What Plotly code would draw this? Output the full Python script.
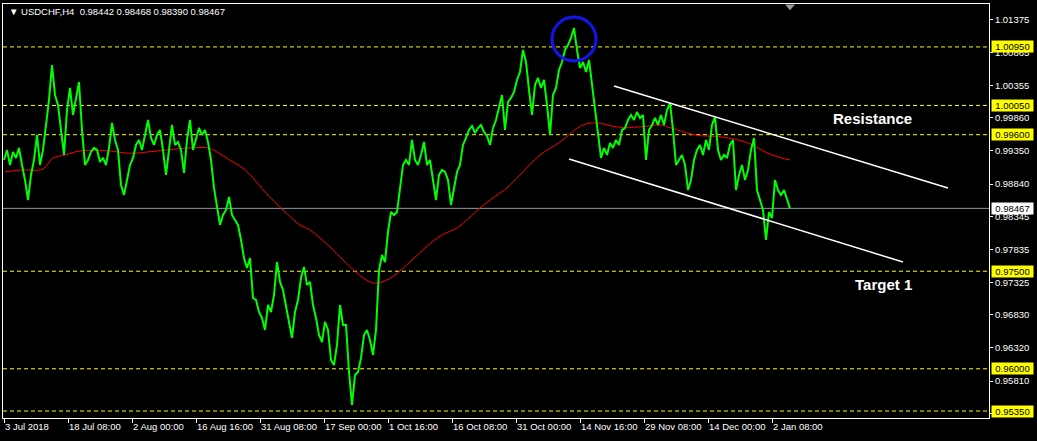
import plotly.graph_objects as go

# ---- data ----
symbol_header = "\u25BC USDCHF,H4  0.98442 0.98468 0.98390 0.98467"

close_jul_aug = [0.99211, 0.99365, 0.99134, 0.99334, 0.99242, 0.99396, 0.99134, 0.98904, 0.98596, 0.98981,
                 0.99211, 0.99596, 0.99134, 0.99365, 0.99750, 1.00134, 1.00672, 1.00211, 1.00057, 0.99673,
                 0.99288, 0.99980, 1.00319, 0.99903, 1.00134, 1.00411, 0.99673, 0.99134, 0.99211, 0.99334,
                 0.99396, 0.99365, 0.99180, 0.99242, 0.99134, 0.99396, 0.99780, 0.99519, 0.99365, 0.98827,
                 0.98673, 0.98934, 0.99134]
close_aug_sep = [0.99242, 0.99442, 0.99519, 0.99365, 0.99596, 0.99826, 0.99550, 0.99442, 0.99596, 0.99673,
                 0.99365, 0.98981, 0.99365, 0.99750, 0.99442, 0.99488, 0.99365, 0.99011, 0.99519, 0.99826,
                 0.99365, 0.99519, 0.99703, 0.99596, 0.99673, 0.99488, 0.99211, 0.98781, 0.98519, 0.98212,
                 0.98365, 0.98442, 0.98642, 0.98365, 0.98288, 0.98212, 0.97981, 0.97704, 0.97550, 0.97704,
                 0.97089, 0.97058, 0.96873, 0.96781]
close_sep_oct = [0.96597, 0.96981, 0.96873, 0.97135, 0.97642, 0.97335, 0.97212, 0.96981, 0.96750, 0.96474,
                 0.96873, 0.97058, 0.97396, 0.97566, 0.97289, 0.97335, 0.96981, 0.96781, 0.96520, 0.96412,
                 0.96720, 0.96597, 0.96135, 0.96058, 0.96366, 0.96981, 0.96674, 0.96674, 0.95951, 0.95443,
                 0.95905, 0.95951, 0.96166, 0.96520, 0.96597, 0.96443, 0.96212, 0.96597, 0.97519, 0.97750,
                 0.97642, 0.98104, 0.98411, 0.98365]
close_oct_nov = [0.98411, 0.98750, 0.99134, 0.99211, 0.99134, 0.99519, 0.99211, 0.99134, 0.99288, 0.99488,
                 0.99134, 0.99211, 0.98904, 0.98596, 0.98981, 0.99057, 0.99027, 0.98904, 0.98519, 0.98781,
                 0.99027, 0.99134, 0.99442, 0.99550, 0.99673, 0.99734, 0.99626, 0.99703, 0.99750, 0.99642,
                 0.99580, 0.99442, 0.99703, 0.99826, 1.00011, 1.00211, 0.99673, 1.00103, 1.00165, 1.00257,
                 1.00442, 1.00565, 1.00903]
close_nov_dec = [1.00718, 1.00288, 0.99903, 1.00365, 1.00472, 1.00319, 1.00442, 1.00057, 0.99596, 1.00211,
                 1.00319, 1.00595, 1.00718, 1.00903, 1.00980, 1.01088, 1.01241, 1.00903, 1.00626, 1.00718,
                 1.00565, 1.00749, 1.00365, 0.99980, 0.99596, 0.99242, 0.99396, 0.99288, 0.99473, 0.99396,
                 0.99519, 0.99442, 0.99673, 0.99703, 0.99826, 0.99903, 0.99826, 0.99949, 0.99857, 0.99903,
                 0.99211, 0.99673, 0.99750, 0.99857, 0.99750]
close_dec_jan = [0.99903, 0.99750, 0.99980, 1.00088, 0.99673, 0.99134, 0.99211, 0.99288, 0.99134, 0.98750,
                 0.98904, 0.99211, 0.99365, 0.99442, 0.99288, 0.99519, 0.99365, 0.99750, 0.99873, 0.99365,
                 0.99211, 0.99288, 0.99242, 0.99442, 0.99519, 0.98750, 0.98981, 0.99134, 0.98904, 0.99057,
                 0.99365, 0.99550, 0.98750, 0.98596, 0.98442, 0.97981, 0.98411, 0.98319, 0.98904, 0.98750,
                 0.98673, 0.98750, 0.98596, 0.98467]

close = close_jul_aug + close_aug_sep + close_sep_oct + close_oct_nov + close_nov_dec + close_dec_jan
close_bars = list(range(0, 3 * len(close), 3))

ma_bars = [1, 16, 39, 49, 61, 76, 106, 121, 133, 153, 186, 204, 213, 229, 239, 249, 261, 279, 296, 306,
           326, 339, 353, 366, 373, 383, 391, 406, 421, 438, 453, 476, 493, 503, 516, 536, 556, 579, 593,
           613, 636, 656, 664, 691, 718, 744, 761, 774, 786]
ma_values = [0.99027, 0.99057, 0.99073, 0.99242, 0.99288, 0.99350, 0.99350, 0.99319, 0.99319, 0.99350,
             0.99396, 0.99396, 0.99334, 0.99180, 0.99088, 0.98934, 0.98719, 0.98442, 0.98212, 0.98135,
             0.97873, 0.97673, 0.97473, 0.97335, 0.97319, 0.97366, 0.97443, 0.97642, 0.97858, 0.98058,
             0.98165, 0.98473, 0.98673, 0.98781, 0.98981, 0.99288, 0.99488, 0.99750, 0.99780, 0.99719,
             0.99719, 0.99750, 0.99719, 0.99596, 0.99565, 0.99473, 0.99334, 0.99257, 0.99211]

level_prices = [1.00950, 1.00050, 0.99600, 0.97500, 0.96000, 0.95350]
last_price = 0.98467

price_ticks = [1.01375, 1.00865, 1.00355, 0.99860, 0.99350, 0.98840, 0.98345, 0.97835,
               0.97325, 0.96830, 0.96320, 0.95810, 0.95315]

time_tick_bars = [0, 64, 128, 192, 256, 320, 384, 448, 512, 576, 640, 704, 768]
time_tick_labels = ["3 Jul 2018", "18 Jul 08:00", "2 Aug 00:00", "16 Aug 16:00", "31 Aug 08:00",
                    "17 Sep 00:00", "1 Oct 16:00", "16 Oct 08:00", "31 Oct 00:00", "14 Nov 16:00",
                    "29 Nov 08:00", "14 Dec 00:00", "2 Jan 08:00"]

channel_upper_bars = [610, 944]
channel_upper_prices = [1.00349, 0.98781]
channel_lower_bars = [565, 899]
channel_lower_prices = [0.99227, 0.97642]

circle_bars = [548, 592]
circle_prices = [1.00734, 1.01410]

labels_text = ["Resistance", "Target 1"]
labels_bars = [868, 879]
labels_prices = [0.99842, 0.97289]

# ---- figure ----
FONT = "Liberation Sans"
fig = go.Figure()

fig.add_trace(go.Scatter(x=ma_bars, y=ma_values, mode="lines",
                         line=dict(color="#ff0000", width=1), line_shape="spline",
                         hoverinfo="skip", showlegend=False))
fig.add_trace(go.Scatter(x=close_bars, y=close, mode="lines",
                         line=dict(color="#00ff00", width=2),
                         hoverinfo="skip", showlegend=False))

shapes = []
for p in level_prices:
    shapes.append(dict(type="line", xref="paper", x0=0, x1=1, yref="y", y0=p, y1=p,
                       line=dict(color="#ffff00", width=1, dash="4px,3px"), layer="below"))
shapes.append(dict(type="line", xref="paper", x0=0, x1=1, yref="y", y0=last_price, y1=last_price,
                   line=dict(color="#8c98a6", width=1), layer="below"))
shapes.append(dict(type="line", xref="x", yref="y",
                   x0=channel_upper_bars[0], x1=channel_upper_bars[1],
                   y0=channel_upper_prices[0], y1=channel_upper_prices[1],
                   line=dict(color="#ffffff", width=1.5)))
shapes.append(dict(type="line", xref="x", yref="y",
                   x0=channel_lower_bars[0], x1=channel_lower_bars[1],
                   y0=channel_lower_prices[0], y1=channel_lower_prices[1],
                   line=dict(color="#ffffff", width=1.5)))
shapes.append(dict(type="circle", xref="x", yref="y",
                   x0=circle_bars[0], x1=circle_bars[1],
                   y0=circle_prices[0], y1=circle_prices[1],
                   line=dict(color="#1414f0", width=3)))
# chart shift marker
shapes.append(dict(type="path", xref="x", yref="paper",
                   path="M 781 0.999 L 791 0.999 L 786 0.985 Z",
                   fillcolor="#9a9a9a", line=dict(width=0)))

annotations = []
annotations.append(dict(text=symbol_header, xref="paper", yref="paper", x=0.004, y=0.981,
                        xanchor="left", yanchor="middle", showarrow=False,
                        font=dict(family=FONT, size=9.5, color="#ffffff")))
for t, b, p in zip(labels_text, labels_bars, labels_prices):
    annotations.append(dict(text="<b>%s</b>" % t, x=b, y=p, xref="x", yref="y", showarrow=False,
                            xanchor="center", yanchor="middle",
                            font=dict(family=FONT, size=15, color="#ffffff")))
for p in level_prices:
    annotations.append(dict(text="%.5f" % p, xref="paper", yref="y", x=1, y=p, xshift=2,
                            xanchor="left", yanchor="middle", showarrow=False,
                            bgcolor="#ffff00", borderpad=0, width=41, height=11, align="center",
                            font=dict(family=FONT, size=9.5, color="#000000")))
annotations.append(dict(text="%.5f" % last_price, xref="paper", yref="y", x=1, y=last_price, xshift=2,
                        xanchor="left", yanchor="middle", showarrow=False,
                        bgcolor="#ffffff", borderpad=0, width=41, height=11, align="center",
                        font=dict(family=FONT, size=9.5, color="#000000")))

fig.update_layout(
    width=1037, height=441, autosize=False,
    margin=dict(l=3, r=48, t=4, b=23, pad=0),
    paper_bgcolor="#000000", plot_bgcolor="#000000",
    shapes=shapes, annotations=annotations, showlegend=False,
    xaxis=dict(range=[-1, 985], showgrid=False, zeroline=False, automargin=False,
               showline=True, mirror=True, linecolor="#ffffff", linewidth=1,
               tickmode="array", tickvals=time_tick_bars, ticktext=time_tick_labels,
               ticks="outside", ticklen=4, tickcolor="#ffffff", tickwidth=1, tickangle=0,
               ticklabelposition="outside right",
               tickfont=dict(family=FONT, size=9.5, color="#ffffff")),
    yaxis=dict(range=[0.95243, 1.01610], side="right", showgrid=False, zeroline=False,
               automargin=False,
               showline=True, mirror=True, linecolor="#ffffff", linewidth=1,
               tickmode="array", tickvals=price_ticks, ticktext=["%.5f" % v for v in price_ticks],
               ticks="outside", ticklen=3, tickcolor="#ffffff", tickwidth=1,
               tickfont=dict(family=FONT, size=9.5, color="#ffffff")),
)

fig.write_html("out.html", config={"displayModeBar": False},
               post_script="document.body.style.margin='0px';document.body.style.background='#000000';")
